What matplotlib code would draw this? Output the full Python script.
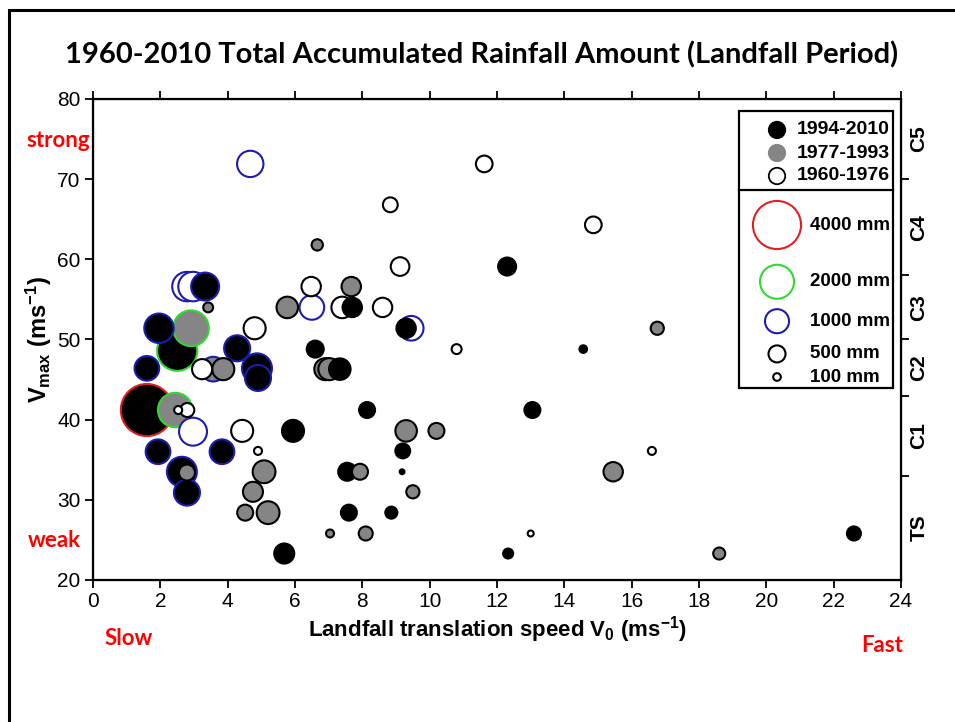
import matplotlib
matplotlib.use('Agg')
import matplotlib.pyplot as plt
from matplotlib.patches import Rectangle

plt.rcParams['font.family'] = ['Liberation Sans', 'DejaVu Sans']
plt.rcParams['mathtext.fontset'] = 'custom'
plt.rcParams['mathtext.rm'] = 'Liberation Sans:bold'
plt.rcParams['mathtext.it'] = 'Liberation Sans:bold'
plt.rcParams['mathtext.bf'] = 'Liberation Sans:bold'

# landfall translation speed (m/s), max wind (m/s), total rainfall (mm), period index
v0 = [4.67, 11.62, 8.83, 14.86, 12.3, 9.12, 6.66, 7.67, 6.48, 5.77,
      6.5, 7.4, 7.7, 8.6, 9.45, 9.3, 4.8, 16.76, 14.56, 10.8,
      6.6, 6.9, 7.02, 7.33, 13.05, 8.14, 9.3, 10.2, 9.2, 16.6,
      9.18, 15.45, 7.55, 7.93, 9.5, 8.86, 7.6, 7.04, 8.1, 13.0,
      22.6, 12.33, 18.6, 5.68, 5.94, 4.43, 4.9, 5.08, 4.75, 5.2,
      4.52, 2.79, 2.97, 3.33, 3.42, 1.96, 2.91, 2.5, 1.6, 3.24,
      3.57, 3.87, 4.28, 4.87, 4.9, 1.6, 2.44, 2.53, 2.8, 2.97,
      1.93, 3.83, 2.64, 2.79, 2.79]
vmax = [71.9, 71.9, 66.8, 64.3, 59.1, 59.1, 61.8, 56.6, 56.6, 54.0,
        54.0, 54.0, 54.0, 54.0, 51.4, 51.4, 51.4, 51.4, 48.8, 48.8,
        48.8, 46.3, 46.3, 46.3, 41.2, 41.2, 38.6, 38.6, 36.1, 36.1,
        33.5, 33.5, 33.5, 33.5, 31.0, 28.4, 28.4, 25.8, 25.8, 25.8,
        25.8, 23.3, 23.3, 23.3, 38.6, 38.6, 36.1, 33.5, 31.0, 28.4,
        28.4, 56.6, 56.6, 56.6, 54.0, 51.4, 51.4, 48.6, 46.4, 46.3,
        46.3, 46.3, 48.9, 46.4, 45.2, 41.2, 41.2, 41.2, 41.2, 38.5,
        36.0, 36.0, 33.5, 33.4, 30.9]
rain = [1200, 480, 380, 480, 560, 600, 220, 650, 650, 800,
        1050, 800, 650, 650, 1050, 650, 840, 300, 100, 170,
        500, 840, 840, 800, 440, 440, 800, 440, 380, 110,
        40, 650, 560, 440, 300, 250, 440, 111, 340, 62,
        340, 173, 250, 693, 838, 838, 111, 900, 693, 900,
        443, 1500, 1500, 1350, 170, 1500, 2200, 2800, 1050, 700,
        1050, 840, 1170, 1550, 1170, 4700, 2050, 111, 340, 1350,
        1050, 1050, 1550, 443, 1170]
period = [2, 2, 2, 2, 0, 2, 1, 1, 2, 1,
          2, 2, 0, 2, 2, 0, 2, 1, 0, 2,
          0, 1, 1, 0, 0, 0, 1, 1, 0, 2,
          0, 1, 0, 1, 1, 0, 0, 1, 1, 2,
          0, 0, 1, 0, 0, 2, 2, 1, 1, 1,
          1, 2, 2, 0, 1, 0, 1, 0, 0, 2,
          1, 1, 0, 0, 0, 0, 1, 2, 2, 2,
          0, 0, 0, 1, 0]

period_labels = ['1994-2010', '1977-1993', '1960-1976']
period_fill = ['black', '#858585', 'white']
size_levels = [4000, 2000, 1000, 500, 100]
cat_bounds = [33, 43, 50, 58, 70]
cat_mids = [26.5, 38, 46.5, 54, 64, 75]
cat_labels = ['TS', 'C1', 'C2', 'C3', 'C4', 'C5']

K = 0.3  # marker area (pt^2) per mm of rain


def edge_of(r):
    if r >= 4000:
        return '#e02020'
    if r >= 2000:
        return '#30d830'
    if r >= 1000:
        return '#1c1cb0'
    return 'black'


fig = plt.figure(figsize=(9.55, 7.22), dpi=100)
ax = fig.add_axes([0.0974, 0.1967, 0.8461, 0.6662])

order = sorted(range(len(rain)), key=lambda i: -rain[i])
ax.scatter([v0[i] for i in order], [vmax[i] for i in order],
           s=[rain[i] * K for i in order],
           c=[period_fill[period[i]] for i in order],
           edgecolors=[edge_of(rain[i]) for i in order],
           linewidths=1.5, zorder=3)

ax.set_xlim(0, 24)
ax.set_ylim(20, 80)
ax.set_xticks(range(0, 25, 2))
ax.set_yticks(range(20, 81, 10))
ax.tick_params(direction='out', length=6, width=1.3, labelsize=15, top=True, pad=3)
for sp in ax.spines.values():
    sp.set_linewidth(1.6)
ax.set_xlabel(r'Landfall translation speed V$_0$ (ms$^{-1}$)',
              fontsize=16, fontweight='bold', labelpad=2)
ax.set_ylabel(r'V$_{max}$ (ms$^{-1}$)', fontsize=17, fontweight='bold', labelpad=2)

ax2 = ax.twinx()
ax2.set_ylim(20, 80)
ax2.set_yticks(cat_bounds)
ax2.set_yticklabels([])
ax2.set_yticks(cat_mids, minor=True)
ax2.set_yticklabels(cat_labels, minor=True, rotation=90, va='center',
                    fontsize=15, fontweight='bold')
ax2.tick_params(which='major', direction='out', length=6, width=1.3)
ax2.tick_params(which='minor', length=0, pad=6)

# legend box
ax.add_patch(Rectangle((0.7995, 0.3992), 0.1905, 0.5758, transform=ax.transAxes,
                       facecolor='white', edgecolor='black', lw=1.6, zorder=5))
ax.plot([0.7995, 0.99], [0.8108, 0.8108], transform=ax.transAxes,
        color='black', lw=1.6, zorder=6)
lx = 0.8465
py = [0.9356, 0.8877, 0.8399]
ax.scatter([lx] * 3, py, s=140, c=period_fill,
           edgecolors=['black', '#858585', 'black'], linewidths=1.3,
           transform=ax.transAxes, zorder=7)
for y, lab in zip(py, period_labels):
    ax.text(0.871, y, lab, transform=ax.transAxes, va='center', ha='left',
            fontsize=14, fontweight='bold', zorder=7)
sy = [0.738, 0.620, 0.538, 0.470, 0.422]
ax.scatter([lx] * 5, sy, s=[v * K for v in size_levels], facecolors='none',
           edgecolors=[edge_of(v) for v in size_levels], linewidths=1.5,
           transform=ax.transAxes, zorder=7)
for y, v in zip(sy, size_levels):
    ax.text(0.887, y, f'{v} mm', transform=ax.transAxes, va='center', ha='left',
            fontsize=13.5, fontweight='bold', zorder=7)

# slide frame and annotations
fig.patches.append(Rectangle((9 / 955, -0.1), 1.2, 1.1 - 10 / 722, transform=fig.transFigure,
                             fill=False, edgecolor='black', lw=2.2))
fig.text(0.504, 0.924, '1960-2010 Total Accumulated Rainfall Amount (Landfall Period)',
         ha='center', va='center', fontsize=21, fontweight='bold', family='Lato')
red = dict(color='red', fontweight='bold', fontsize=16, family='Lato', ha='center', va='center')
fig.text(0.0607, 0.806, 'strong', **red)
fig.text(0.0565, 0.2507, 'weak', **red)
fig.text(0.135, 0.115, 'Slow', **red)
fig.text(0.9236, 0.1066, 'Fast', **red)

fig.savefig('out.png', dpi=100)
